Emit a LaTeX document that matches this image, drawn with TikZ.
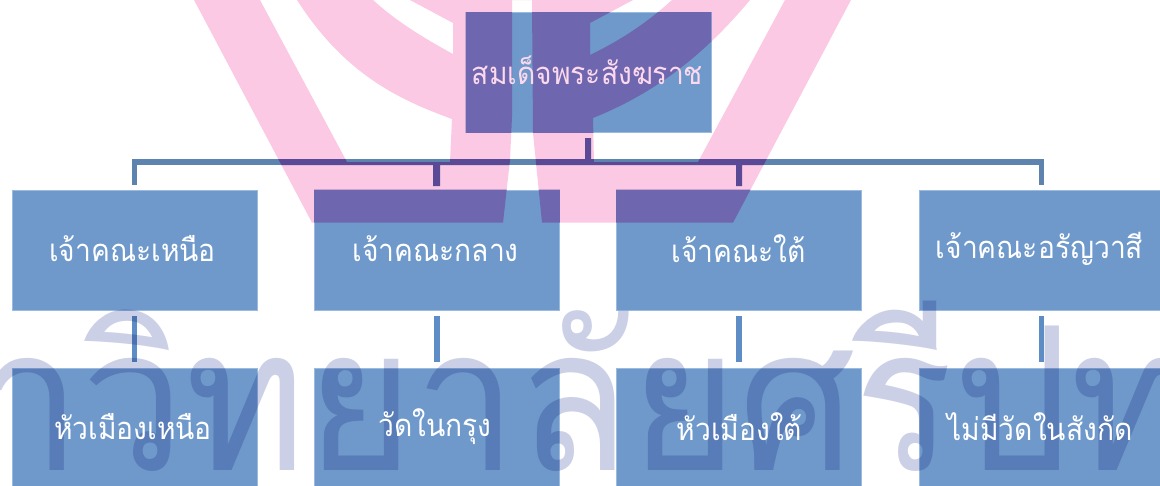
\documentclass[tikz,border=0pt]{standalone}
\usepackage{fontspec}
\usepackage{xcolor}
\newfontfamily\thaifont[Script=Thai]{Loma}
\definecolor{boxblue}{HTML}{6F99CB}
\definecolor{boxedge}{HTML}{9ABAE0}
\definecolor{linkblue}{HTML}{5E83AE}
\definecolor{lowerlink}{HTML}{5E8CC4}
\definecolor{crestpink}{HTML}{FBC9E4}
\definecolor{crestover}{HTML}{6E66AE}
\definecolor{crestlink}{HTML}{5A4A96}
\definecolor{wordgrey}{HTML}{CBD0E6}
\tikzset{
  crest/.pic={
    \fill[pic actions] (194,0) -- (312,222.7) -- (503,222.7) -- (510,160) -- (512,117) -- (512,0)
      -- (532,0) -- (533,133) -- (542,222.7) -- (733,222.7) -- (851,0) -- (785,0) -- (698,162)
      -- (594,162) -- (593,118) .. controls (650,95) and (700,60) .. (750,0)
      -- (672,0) .. controls (650,20) and (625,38) .. (590,55) -- (590,23) -- (633,0)
      -- (410,0) -- (453,23) -- (453,54) .. controls (420,36) and (395,20) .. (373,0)
      -- (297,0) .. controls (345,75) and (400,100) .. (452,119)
      -- (450,162) -- (347,162) -- (260,0) -- cycle;
  },
  boxnode/.style={draw=boxedge,line width=0.7pt,fill=boxblue,inner sep=0pt,minimum width=245pt,minimum height=120pt},
  labelnode/.style={text=white,inner sep=0pt,font=\thaifont\fontsize{31}{31}\selectfont,xscale=.91,transform shape},
  link/.style={draw=linkblue,line width=5.5pt},
}
\begin{document}
\begin{tikzpicture}[x=1pt,y=-1pt]
  \path[use as bounding box,clip] (0,0) rectangle (1160,485);
  \pic[fill=crestpink] {crest};
  % boxes
  \node[boxnode] (root) at (588.5,72.5) {};
  \node[boxnode] (north) at (134.5,250) {};
  \node[boxnode] (centre) at (437,250) {};
  \node[boxnode] (south) at (739,250) {};
  \node[boxnode] (forest) at (1041.5,250) {};
  \node[boxnode] (northtown) at (134.5,428) {};
  \node[boxnode] (incity) at (437,428) {};
  \node[boxnode] (southtown) at (739,428) {};
  \node[boxnode] (nosub) at (1041.5,428) {};
  % connectors
  \coordinate (trunk) at (588.5,162);
  \draw[link,shorten <=5pt] (root.south) -- (trunk);
  \draw[link,line cap=rect] (trunk -| north.north) -- (trunk -| forest.north);
  \foreach \to in {north,centre,south,forest}
    \draw[link,shorten >=5pt] (trunk -| \to.north) -- (\to.north);
  \foreach \from/\to in {north/northtown,centre/incity,south/southtown,forest/nosub}
    \draw[link,draw=lowerlink,shorten <=6pt,shorten >=6pt] (\from.south) -- (\to.north);
  % crest seen through boxes
  \begin{scope}
    \clip (root.south west) rectangle (root.north east)
      (north.south west) rectangle (north.north east)
      (centre.south west) rectangle (centre.north east)
      (south.south west) rectangle (south.north east)
      (forest.south west) rectangle (forest.north east);
    \pic[fill=crestover] {crest};
  \end{scope}
  \begin{scope}
    \clip (131,159) rectangle (1045,165) (585,138) rectangle (591,162)
      (433,162) rectangle (440,186) (736,162) rectangle (742,186);
    \pic[fill=crestlink] {crest};
  \end{scope}
  % watermark
  \begin{scope}[blend mode=multiply]
    \node[anchor=base west,inner sep=0pt,text=wordgrey] (wordmark) at (-22,470)
      {\thaifont\fontsize{200}{200}\selectfont\scalebox{0.92}[1]{าวิทยาลัยศรีปท}};
  \end{scope}
  % labels
  \node[labelnode,text=crestpink!70!white] (rootlabel) at (587.5,70) {สมเด็จพระสังฆราช};
  \node[labelnode] (northlabel) at (132.5,249) {เจ้าคณะเหนือ};
  \node[labelnode] (centrelabel) at (435.5,249) {เจ้าคณะกลาง};
  \node[labelnode] (southlabel) at (738.5,249) {เจ้าคณะใต้};
  \node[labelnode] (forestlabel) at (1039.5,249) {เจ้าคณะอรัญวาสี};
  \node[labelnode] (northtownlabel) at (133,427) {หัวเมืองเหนือ};
  \node[labelnode] (incitylabel) at (435,427) {วัดในกรุง};
  \node[labelnode] (southtownlabel) at (739.5,427) {หัวเมืองใต้};
  \node[labelnode] (nosublabel) at (1040,427) {ไม่มีวัดในสังกัด};
\end{tikzpicture}
\end{document}
